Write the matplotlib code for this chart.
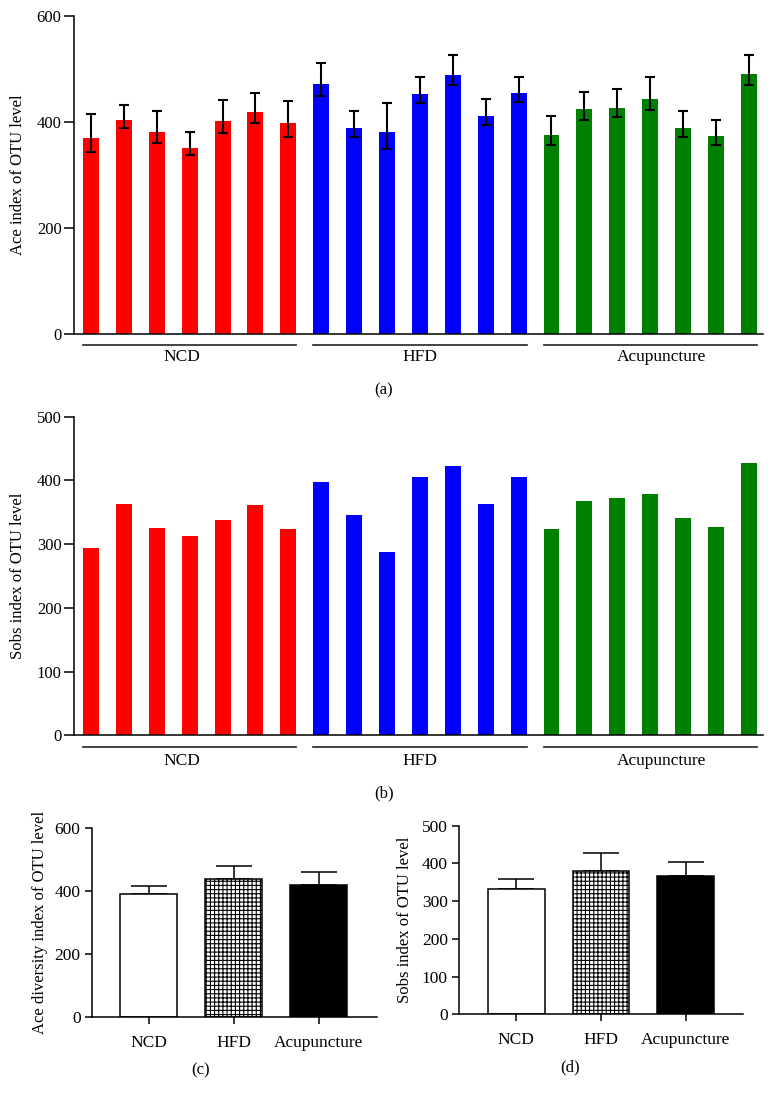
import numpy as np
import matplotlib
matplotlib.use("Agg")
import matplotlib.pyplot as plt
from matplotlib import transforms

plt.rcParams['font.family'] = ['Liberation Serif', 'DejaVu Serif']
plt.rcParams['hatch.linewidth'] = 0.8
plt.rcParams['axes.linewidth'] = 1.1

# Data
groups = ['NCD', 'HFD', 'Acupuncture']
group_colors = ['#ff0000', '#0000ff', '#008000']

# Ace index per sample (panel a), with upper / lower error
ace_ncd = [369, 404, 381, 352, 402, 419, 399]
ace_hfd = [472, 389, 382, 452, 489, 411, 454]
ace_acu = [376, 424, 426, 444, 389, 374, 491]
ace_up_ncd = [46, 28, 39, 30, 40, 36, 41]
ace_up_hfd = [40, 31, 53, 33, 38, 33, 31]
ace_up_acu = [36, 33, 36, 41, 31, 30, 36]
ace_lo_ncd = [25, 15, 20, 15, 23, 20, 27]
ace_lo_hfd = [23, 17, 32, 16, 20, 17, 17]
ace_lo_acu = [19, 20, 16, 22, 17, 17, 22]

# Sobs index per sample (panel b)
sobs_ncd = [294, 363, 326, 313, 338, 361, 323]
sobs_hfd = [398, 346, 288, 406, 423, 363, 406]
sobs_acu = [323, 367, 373, 379, 341, 327, 427]

# group summaries (panels c, d)
ace_mean = [392, 439, 421]
ace_err = [24, 41, 41]
sobs_mean = [333, 380, 367]
sobs_err = [25, 47, 36]

fig = plt.figure(figsize=(7.75, 11.02), dpi=100)


def sample_panel(rect, series, ymax, ystep, ylabel, up=None, lo=None):
    ax = fig.add_axes(rect)
    n = len(series[0])
    vals = np.concatenate(series)
    x = np.arange(len(vals))
    cols = np.repeat(group_colors, n)
    w = 0.486
    ax.bar(x, vals, w, color=cols, zorder=2)
    if up is not None:
        ax.errorbar(x, vals, yerr=[np.concatenate(lo), np.concatenate(up)],
                    fmt='none', ecolor='black', elinewidth=1.5,
                    capsize=3.5, capthick=1.5, zorder=3)
    ax.set_xlim(-0.517, len(vals) - 1 + 0.43)
    ax.set_ylim(0, ymax)
    ax.set_yticks(np.arange(0, ymax + 1, ystep))
    ax.set_xticks([])
    for s in ['top', 'right']:
        ax.spines[s].set_visible(False)
    ax.tick_params(axis='y', direction='out', length=7, width=1.1, labelsize=12, pad=2)
    ax.set_ylabel(ylabel, fontsize=12)
    ax.yaxis.set_label_coords(-0.070, 0.5)
    trans = transforms.blended_transform_factory(ax.transData, ax.transAxes)
    return ax, trans, n, w


label_pos = [2.75, 10.0, 17.35]

# panel a
ax, trans, n, w = sample_panel([0.0955, 0.6966, 0.889, 0.289],
                               [ace_ncd, ace_hfd, ace_acu], 600, 200,
                               'Ace index of OTU level',
                               up=[ace_up_ncd, ace_up_hfd, ace_up_acu],
                               lo=[ace_lo_ncd, ace_lo_hfd, ace_lo_acu])
for i, g in enumerate(groups):
    ax.plot([i * n - w / 2, i * n + n - 1 + w / 2], [-0.034, -0.034], color='#222222',
            lw=1.2, transform=trans, clip_on=False)
    ax.text(label_pos[i], -0.071, g, transform=trans, ha='center', va='center', fontsize=12.5)

# panel b
ax, trans, n, w = sample_panel([0.0955, 0.3327, 0.889, 0.2892],
                               [sobs_ncd, sobs_hfd, sobs_acu], 500, 100,
                               'Sobs index of OTU level')
for i, g in enumerate(groups):
    ax.plot([i * n - w / 2, i * n + n - 1 + w / 2], [-0.037, -0.037], color='#222222',
            lw=1.2, transform=trans, clip_on=False)
    ax.text(label_pos[i], -0.081, g, transform=trans, ha='center', va='center', fontsize=12.5)


def summary_panel(rect, means, errs, ymax, ystep, ylabel, lab_x):
    ax = fig.add_axes(rect)
    x = np.arange(len(means))
    bars = ax.bar(x, means, 0.67, color=['white', 'white', 'black'],
                  edgecolor='black', linewidth=1.1, zorder=2)
    bars[1].set_hatch('++++')
    ax.errorbar(x, means, yerr=[np.zeros(len(errs)), errs], fmt='none',
                ecolor='black', elinewidth=1.1, capsize=13, capthick=1.1, zorder=1)
    ax.set_xlim(-0.674, 2.68)
    ax.set_ylim(0, ymax)
    ax.set_yticks(np.arange(0, ymax + 1, ystep))
    ax.set_xticks(x)
    ax.set_xticklabels(groups)
    for s in ['top', 'right']:
        ax.spines[s].set_visible(False)
    ax.tick_params(direction='out', length=5, width=1.1, labelsize=12.5, pad=3)
    ax.tick_params(axis='x', pad=8)
    ax.set_ylabel(ylabel, fontsize=12)
    ax.yaxis.set_label_coords(lab_x, 0.5)
    return ax


summary_panel([0.1183, 0.0769, 0.3677, 0.1715], ace_mean, ace_err, 600, 200,
              'Ace diversity index of OTU level', -0.153)
summary_panel([0.5923, 0.0796, 0.3668, 0.1711], sobs_mean, sobs_err, 500, 100,
              'Sobs index of OTU level', -0.162)

fig.text(384 / 775, 1 - 390 / 1102, '(a)', ha='center', va='center', fontsize=12)
fig.text(384 / 775, 1 - 793 / 1102, '(b)', ha='center', va='center', fontsize=12)
fig.text(201 / 775, 1 - 1070 / 1102, '(c)', ha='center', va='center', fontsize=12)
fig.text(570 / 775, 1 - 1067 / 1102, '(d)', ha='center', va='center', fontsize=12)

fig.savefig('out.png', dpi=100)
